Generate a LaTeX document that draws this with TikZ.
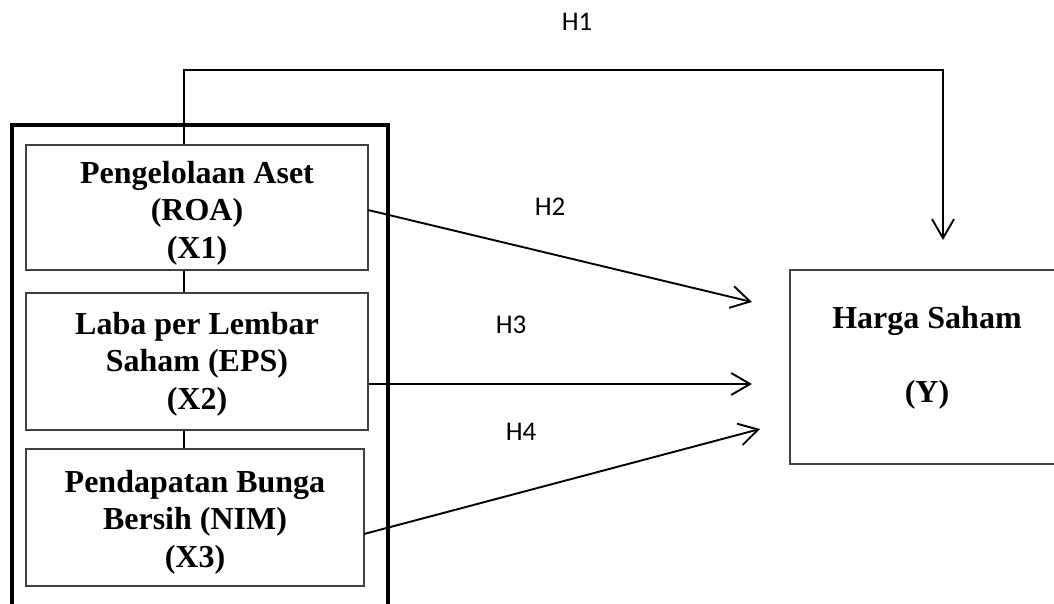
\documentclass[tikz,border=0pt]{standalone}
\usepackage{fontspec}
\setmainfont{Liberation Serif}
\newfontfamily\lblfont{Carlito}
\usetikzlibrary{arrows.meta,calc}
\begin{document}
\begin{tikzpicture}[x=1pt,y=-1pt,
  varbox/.style={draw=black!75,line width=1.2pt,inner sep=0pt},
  vartext/.style={align=center,inner sep=0pt,
    font=\fontsize{32}{37.5}\selectfont\bfseries},
  link/.style={line width=1.9pt},
  arr/.style={line width=1.9pt,-{Straight Barb[length=19pt,width=22pt,line width=1.9pt]}},
  hlabel/.style={font=\lblfont\fontsize{27}{30}\selectfont,inner sep=0pt}]
\useasboundingbox (0,0) rectangle (1054,604);
% outer thick frame
\draw[line width=4pt] (12,125) rectangle (388,640);
% left boxes
\node[varbox,minimum width=342pt,minimum height=125pt] (b1) at (197,207.5) {};
\node[vartext] (t1) at (197,213) {Pengelolaan Aset\\(ROA)\\(X1)};
\node[varbox,minimum width=342pt,minimum height=137pt] (b2) at (197,361.5) {};
\node[vartext] (t2) at (197,364) {Laba per Lembar\\Saham (EPS)\\(X2)};
\node[varbox,minimum width=338pt,minimum height=137pt] (b3) at (195,517.5) {};
\node[vartext] (t3) at (195,522) {Pendapatan Bunga\\Bersih (NIM)\\(X3)};
% right box
\node[varbox,minimum width=270pt,minimum height=194pt] (y) at (925,367) {};
\node[vartext] (ytext) at (927,358) {Harga Saham\\[37pt](Y)};
% vertical connectors between boxes
\coordinate (c1) at (184,145);
\draw[link] (b1.south -| c1) -- (b2.north -| c1);
\draw[link] (b2.south -| c1) -- (b3.north -| c1);
% H1
\coordinate (h1top) at (943,70);
\coordinate (h1end) at (943,240);
\draw[arr] (b1.north -| c1) |- (h1top) -- (h1end);
% H2
\coordinate (h2end) at (752,302);
\draw[arr] (368,210) -- (h2end);
% H3
\coordinate (h3end) at (752,384);
\draw[arr] (b2.east |- h3end) -- (h3end);
% H4
\coordinate (s3) at (364,534);
\coordinate (h4end) at (760,429);
\draw[arr] (s3) -- (h4end);
% labels
\node[hlabel] (l1) at (577,22) {H1};
\node[hlabel] (l2) at (550,207) {H2};
\node[hlabel] (l3) at (511,325) {H3};
\node[hlabel] (l4) at (521,432) {H4};
\end{tikzpicture}
\end{document}
